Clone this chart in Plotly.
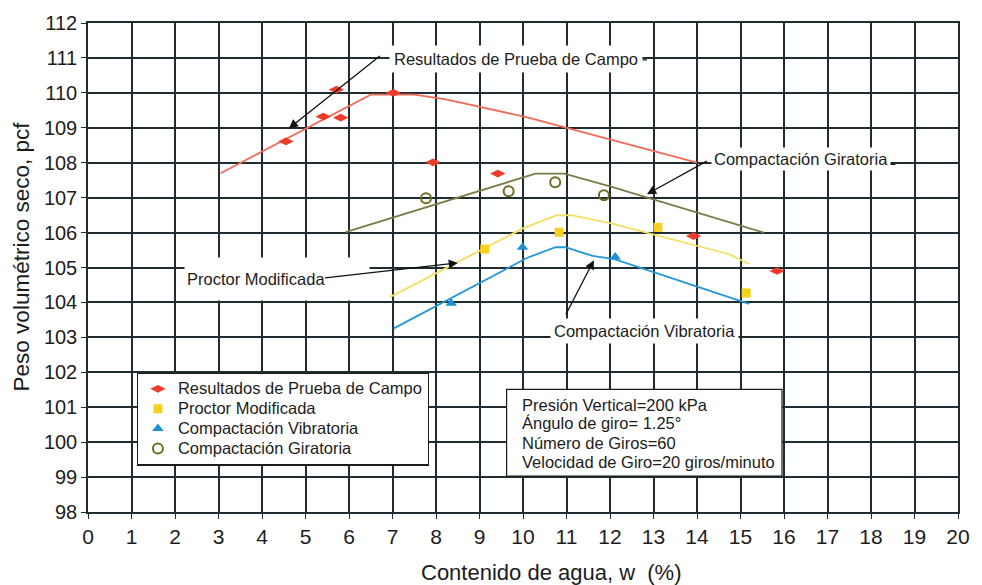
import plotly.graph_objects as go

# Field test results (water content %, dry unit weight pcf)
campo_w = [4.55, 5.41, 5.71, 5.81, 7.02, 7.93, 9.42, 13.92, 15.84]
campo_g = [108.61, 109.32, 110.09, 109.29, 110.0, 108.01, 107.69, 105.90, 104.90]
campo_curve_w = [3.05, 6.5, 7.5, 8.2, 10.1, 14.0]
campo_curve_g = [107.7, 109.95, 109.95, 109.82, 109.3, 108.0]

# Modified Proctor
proctor_w = [9.12, 10.83, 13.1, 15.13]
proctor_g = [105.53, 106.01, 106.15, 104.27]
proctor_curve_w = [6.95, 10.0, 10.76, 11.1, 12.0, 14.74, 15.2]
proctor_curve_g = [104.16, 106.12, 106.49, 106.5, 106.27, 105.38, 105.1]

# Vibratory compaction
vibra_w = [8.35, 9.99, 12.12]
vibra_g = [103.98, 105.58, 105.3]
vibra_curve_w = [7.02, 10.1, 10.75, 10.97, 11.6, 12.1, 15.2]
vibra_curve_g = [103.25, 105.28, 105.58, 105.58, 105.33, 105.24, 103.96]

# Gyratory compaction
gira_w = [7.77, 9.67, 10.74, 11.86]
gira_g = [106.98, 107.18, 107.44, 107.07]
gira_curve_w = [5.92, 10.29, 10.95, 12.0, 15.54]
gira_curve_g = [106.01, 107.69, 107.69, 107.32, 106.0]

x_ticks = list(range(0, 21))
y_ticks = list(range(98, 113))

series_names = [
    "Resultados de Prueba de Campo",
    "Proctor Modificada",
    "Compactación Vibratoria",
    "Compactación Giratoria",
]

params = [
    "Presión Vertical=200 kPa",
    "Ángulo de giro= 1.25°",
    "Número de Giros=60",
    "Velocidad de Giro=20 giros/minuto",
]

FONT = "Liberation Sans, Arial, sans-serif"
INK = "#1c1c1c"
GRID = "#1f2c31"

C_RED, C_RED_L = "#ef3b2a", "#f26a58"
C_YEL, C_YEL_L = "#f7cf1d", "#f4df62"
C_BLU, C_BLU_L = "#1e8fd5", "#2497d8"
C_OLV, C_OLV_L = "#6f6b22", "#7b7c45"


def legend_label(txt):
    # larger glyphs inside a compact legend row
    return f'<span style="font-size:16.5px">{txt}</span>'


fig = go.Figure()

for cx, cy, col in [
    (campo_curve_w, campo_curve_g, C_RED_L),
    (gira_curve_w, gira_curve_g, C_OLV_L),
    (proctor_curve_w, proctor_curve_g, C_YEL_L),
    (vibra_curve_w, vibra_curve_g, C_BLU_L),
]:
    fig.add_trace(go.Scatter(x=cx, y=cy, mode="lines", showlegend=False,
                             line=dict(color=col, width=1.8), hoverinfo="skip"))

fig.add_trace(go.Scatter(x=campo_w, y=campo_g, mode="markers",
                         name=legend_label(series_names[0]),
                         marker=dict(symbol="diamond-wide", size=11, color=C_RED)))
fig.add_trace(go.Scatter(x=proctor_w, y=proctor_g, mode="markers",
                         name=legend_label(series_names[1]),
                         marker=dict(symbol="square", size=9, color=C_YEL)))
fig.add_trace(go.Scatter(x=vibra_w, y=vibra_g, mode="markers",
                         name=legend_label(series_names[2]),
                         marker=dict(symbol="triangle-up", size=10, color=C_BLU)))
fig.add_trace(go.Scatter(x=gira_w, y=gira_g, mode="markers",
                         name=legend_label(series_names[3]),
                         marker=dict(symbol="circle-open", size=10, color=C_OLV,
                                     line=dict(width=2, color=C_OLV))))

shapes = []
# short leader lines continuing past the curve labels
for x0, x1, y in [(12.3, 12.85, 110.945), (17.6, 18.56, 107.95), (10.51, 15.04, 103.02)]:
    shapes.append(dict(type="line", xref="x", yref="y", x0=x0, x1=x1, y0=y, y1=y,
                       line=dict(color=INK, width=1.2), layer="above"))
# test parameters box
shapes.append(dict(type="rect", xref="x", yref="y", x0=9.623, x1=15.954, y0=99.03, y1=101.51,
                   fillcolor="white", line=dict(color=INK, width=1.2), layer="above"))

annotations = []
lab_font = dict(family=FONT, size=16.5, color=INK)

# curve labels on white backgrounds
annotations.append(dict(x=6.926, y=110.97, xref="x", yref="y", text="Resultados de Prueba de Campo",
                        showarrow=False, xanchor="left", yanchor="middle", font=lab_font,
                        bgcolor="white", borderpad=4))
annotations.append(dict(x=14.33, y=108.12, xref="x", yref="y", text="Compactación Giratoria",
                        showarrow=False, xanchor="left", yanchor="middle", font=lab_font,
                        bgcolor="white", borderpad=2))
annotations.append(dict(x=10.63, y=103.19, xref="x", yref="y", text="Compactación Vibratoria",
                        showarrow=False, xanchor="left", yanchor="middle", font=lab_font,
                        bgcolor="white", borderpad=3))
annotations.append(dict(x=2.217, y=104.66, xref="x", yref="y", text="Proctor Modificada",
                        showarrow=False, xanchor="left", yanchor="middle", align="left",
                        width=180, height=38, font=lab_font, bgcolor="white", borderpad=2))

# arrows: (head x, head y, tail x, tail y)
for hx, hy, tx, ty in [
    (4.617, 108.98, 6.743, 111.09),
    (12.85, 107.10, 14.26, 108.07),
    (11.63, 105.21, 10.97, 103.62),
    (8.503, 105.13, 5.417, 104.70),
]:
    annotations.append(dict(x=hx, y=hy, ax=tx, ay=ty, xref="x", yref="y", axref="x", ayref="y",
                            text="", showarrow=True, arrowhead=2, arrowsize=1.4, arrowwidth=1.3,
                            arrowcolor="#111111", standoff=0, startstandoff=0))

# parameter lines
for txt, yv in zip(params, [101.05, 100.54, 99.97, 99.43]):
    annotations.append(dict(x=9.92, y=yv, xref="x", yref="y", text=txt, showarrow=False,
                            xanchor="left", yanchor="middle", font=lab_font))

# axis titles
annotations.append(dict(x=0.5326, y=-0.124, xref="paper", yref="paper",
                        text="Contenido de agua, w  (%)", showarrow=False,
                        xanchor="center", yanchor="middle",
                        font=dict(family=FONT, size=22, color=INK)))
annotations.append(dict(x=-0.0766, y=0.5234, xref="paper", yref="paper",
                        text="Peso volumétrico seco, pcf", showarrow=False, textangle=-90,
                        xanchor="center", yanchor="middle",
                        font=dict(family=FONT, size=22.5, color=INK)))

fig.update_layout(
    width=982, height=585,
    margin=dict(l=88, r=19, t=21, b=73),
    paper_bgcolor="white", plot_bgcolor="white",
    shapes=shapes, annotations=annotations,
    legend=dict(x=0.056, y=0.285, xanchor="left", yanchor="top",
                bgcolor="white", bordercolor=INK, borderwidth=1.2,
                font=dict(family=FONT, size=13, color=INK),
                itemwidth=30, tracegroupgap=0),
    xaxis=dict(range=[0, 20], tickmode="array", tickvals=x_ticks,
               ticktext=[str(v) for v in x_ticks],
               showgrid=True, gridcolor=GRID, gridwidth=1.5,
               showline=True, linecolor=GRID, linewidth=1.5, mirror=True,
               ticks="outside", ticklen=5, tickcolor=GRID, tickwidth=1.2,
               zeroline=False,
               tickfont=dict(family=FONT, size=21, color=INK)),
    yaxis=dict(range=[98, 112], tickmode="array", tickvals=y_ticks,
               showgrid=True, gridcolor=GRID, gridwidth=1.5,
               showline=True, linecolor=GRID, linewidth=1.5, mirror=True,
               ticks="outside", ticklen=5, tickcolor=GRID, tickwidth=1.2,
               zeroline=False,
               tickfont=dict(family=FONT, size=20, color=INK)),
)

fig.write_html("out.html")
